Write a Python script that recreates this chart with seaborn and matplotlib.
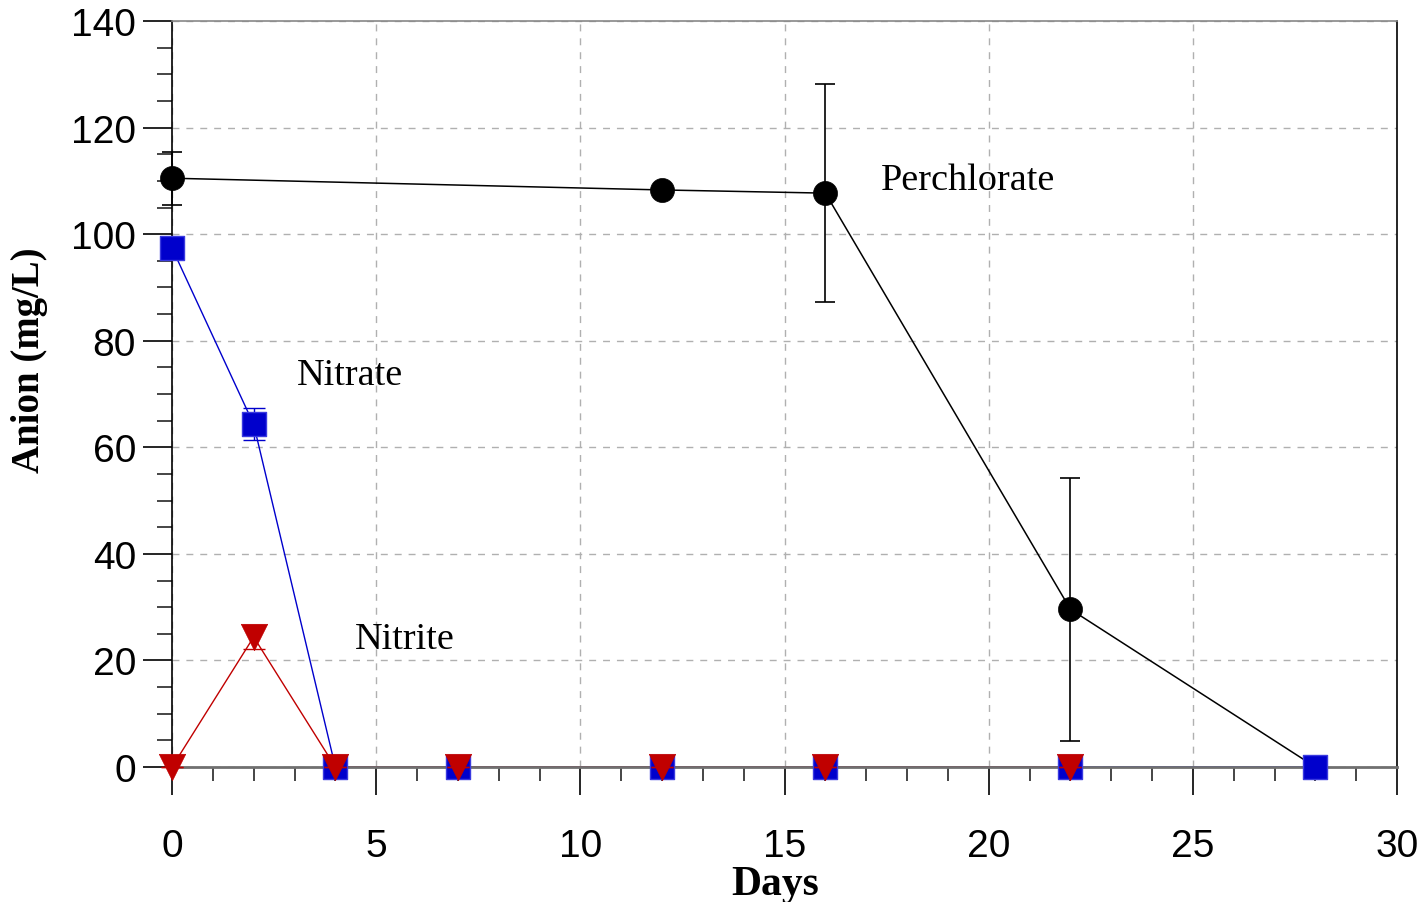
import matplotlib
matplotlib.use("Agg")
import matplotlib.pyplot as plt
from matplotlib.ticker import MultipleLocator
import seaborn as sns
import pandas as pd

# ---- data ----
perc_days = [0, 12, 16, 22, 28]
perc_vals = [110.5, 108.3, 107.7, 29.6, 0.0]
perc_err = [5.0, 0.0, 20.4, 24.7, 0.0]

nitrate_days = [0, 2, 4, 7, 12, 16, 22, 28]
nitrate_vals = [97.4, 64.3, 0.0, 0.0, 0.0, 0.0, 0.0, 0.0]
nitrate_err = [1.0, 3.0, 0.0, 0.0, 0.0, 0.0, 0.0, 0.0]

nitrite_days = [0, 2, 4, 7, 12, 16, 22]
nitrite_vals = [0.0, 24.4, 0.0, 0.0, 0.0, 0.0, 0.0]
nitrite_err = [0.0, 2.3, 0.0, 0.0, 0.0, 0.0, 0.0]

x_ticks = [0, 5, 10, 15, 20, 25, 30]
y_ticks = [0, 20, 40, 60, 80, 100, 120, 140]

labels = {"Perchlorate": (17.35, 110.2), "Nitrate": (3.05, 73.7), "Nitrite": (4.47, 24.0)}

sns.set_theme(style="white")
plt.rcParams['font.family'] = ['Liberation Sans', 'DejaVu Sans']
plt.rcParams['text.color'] = 'black'
plt.rcParams['axes.labelcolor'] = 'black'

fig = plt.figure(figsize=(14.24, 9.03), dpi=100)
ax = fig.add_axes([0.1208, 0.1495, 0.8603, 0.8261])

BLACK = "#000000"
BLUE = "#0000CC"
RED = "#C00000"

df_p = pd.DataFrame({"day": perc_days, "val": perc_vals})
df_n = pd.DataFrame({"day": nitrate_days, "val": nitrate_vals})
df_t = pd.DataFrame({"day": nitrite_days, "val": nitrite_vals})

# connecting lines (below the x axis line)
sns.lineplot(data=df_p, x="day", y="val", ax=ax, color=BLACK, linewidth=1.1,
             zorder=2, clip_on=False, estimator=None)
sns.lineplot(data=df_n, x="day", y="val", ax=ax, color=BLUE, linewidth=1.0,
             zorder=2, clip_on=False, estimator=None)
sns.lineplot(data=df_t, x="day", y="val", ax=ax, color=RED, linewidth=1.0,
             zorder=2, clip_on=False, estimator=None)

# error bars and markers (above the axis line)
ax.errorbar(perc_days, perc_vals, yerr=perc_err, fmt="none", ecolor=BLACK,
            elinewidth=1.2, capsize=7, capthick=1.2, zorder=4, clip_on=False)
sns.scatterplot(data=df_p, x="day", y="val", ax=ax, color=BLACK, s=300,
                marker="o", edgecolor=BLACK, linewidth=0.5, zorder=5, clip_on=False)

ax.errorbar(nitrate_days, nitrate_vals, yerr=nitrate_err, fmt="none", ecolor=BLUE,
            elinewidth=1.0, capsize=8, capthick=1.0, zorder=6, clip_on=False)
sns.scatterplot(data=df_n, x="day", y="val", ax=ax, color=BLUE, s=310,
                marker="s", edgecolor="#3a3ae0", linewidth=1.0, zorder=7, clip_on=False)

ax.errorbar(nitrite_days, nitrite_vals, yerr=nitrite_err, fmt="none", ecolor=RED,
            elinewidth=1.0, capsize=8, capthick=1.0, zorder=8, clip_on=False)
sns.scatterplot(data=df_t, x="day", y="val", ax=ax, color=RED, s=360,
                marker="v", edgecolor=RED, linewidth=0.5, zorder=9, clip_on=False)

for name, (lx, ly) in labels.items():
    ax.text(lx, ly, name, fontsize=27.5, family=["Liberation Serif", "DejaVu Serif"],
            ha="left", va="center", color="black", zorder=10)

ax.set_xlim(0, 30)
ax.set_ylim(0, 140)
ax.set_xticks(x_ticks)
ax.set_yticks(y_ticks)
ax.xaxis.set_minor_locator(MultipleLocator(1))
ax.yaxis.set_minor_locator(MultipleLocator(5))

ax.grid(True, which="major", linestyle=(0, (5, 5)), color="#b0b0b0", linewidth=1.0, zorder=0)
ax.set_axisbelow(True)

for s in ["left", "right"]:
    ax.spines[s].set_color("black")
    ax.spines[s].set_linewidth(1.2)
ax.spines["top"].set_color("#888888")
ax.spines["top"].set_linewidth(1.2)
ax.spines["bottom"].set_color("#707070")
ax.spines["bottom"].set_linewidth(2.0)
ax.spines["bottom"].set_zorder(3)

ax.tick_params(axis="both", which="major", direction="out", labelsize=28, colors="black")
ax.tick_params(axis="y", which="major", length=21, width=1.2, pad=5, left=True)
ax.tick_params(axis="y", which="minor", length=11, width=1.2, left=True)
ax.tick_params(axis="x", which="major", length=20, width=1.2, pad=24, bottom=True)
ax.tick_params(axis="x", which="minor", length=10, width=1.2, bottom=True)

ax.set_xlabel("Days", fontsize=30, fontweight="bold", color="black",
              family=["Liberation Serif", "DejaVu Serif"])
ax.set_ylabel("Anion (mg/L)", fontsize=28, fontweight="bold", color="black",
              family=["Liberation Serif", "DejaVu Serif"])
ax.yaxis.set_label_coords(-0.101, 0.547)
ax.xaxis.set_label_coords(0.492, -0.132)

if ax.get_legend() is not None:
    ax.get_legend().remove()

fig.savefig("out.png", dpi=100)
